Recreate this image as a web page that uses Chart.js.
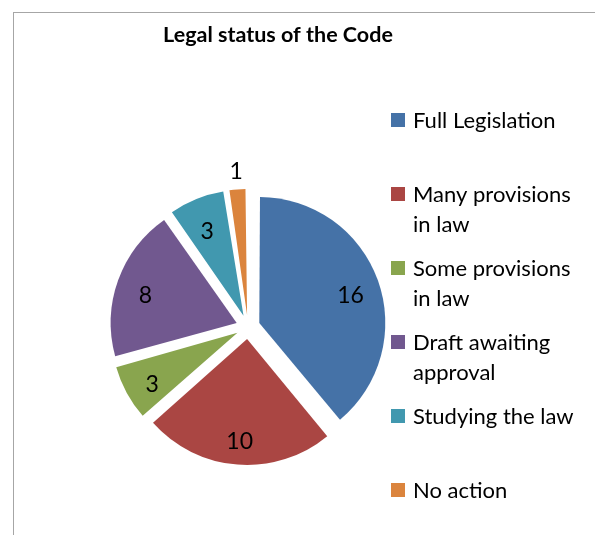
<!DOCTYPE html>
<html>
<head>
<meta charset="utf-8">
<script src="https://cdn.jsdelivr.net/npm/chart.js@4/dist/chart.umd.min.js"></script>
<style>
	html, body { margin: 0; padding: 0; background: #fff; }
	#wrap { width: 595px; height: 535px; }
</style>
</head>
<body>
<div id="wrap"><canvas id="chart" width="595" height="535"></canvas></div>
<script>
const title = 'Legal status of the Code'
const categories = [
	['Full Legislation'],
	['Many provisions', 'in law'],
	['Some provisions', 'in law'],
	['Draft awaiting', 'approval'],
	['Studying the law'],
	['No action']
]
const values = [16, 10, 3, 8, 3, 1]
const colors = ['#4572A7', '#AA4643', '#89A54E', '#71588F', '#4198AF', '#DB843D']

const font = 'Lato, "Noto Sans", sans-serif'
const RADIUS = 126
const EXPLODE = 12

// Chart.js grows the arc radius by offset * (1 - sin(angle)) when exploding,
// Excel only moves the slice, so take that growth back before drawing
const keepRadius = {
	id: 'keepRadius',
	beforeDatasetsDraw(chart) {
		chart.getDatasetMeta(0).data.forEach((arc) => {
			const fix = 1 - Math.sin(Math.min(Math.PI, arc.circumference || 0))
			arc.outerRadius = RADIUS - EXPLODE * fix
		})
	}
}

const extras = {
	id: 'extras',
	beforeDraw(chart) {
		const ctx = chart.ctx
		ctx.save()
		ctx.fillStyle = '#fff'
		ctx.fillRect(0, 0, chart.width, chart.height)
		ctx.strokeStyle = '#a6a6a6'
		ctx.lineWidth = 1
		ctx.strokeRect(13.5, 12.5, 800, 800)
		ctx.restore()
	},
	afterDraw(chart) {
		const ctx = chart.ctx
		ctx.save()
		// title
		ctx.fillStyle = '#000'
		ctx.font = 'bold 21.5px ' + font
		ctx.textAlign = 'center'
		ctx.textBaseline = 'alphabetic'
		ctx.fillText(title, 278, 42)

		// legend
		ctx.textAlign = 'left'
		ctx.font = '22px ' + font
		categories.forEach((lines, i) => {
			const top = 113 + i * 74
			ctx.fillStyle = colors[i]
			ctx.fillRect(391, top, 14, 14)
			ctx.fillStyle = '#000'
			lines.forEach((line, j) => {
				ctx.fillText(line, 413, top + 15 + j * 30)
			})
		})

		// data labels, tiny slices get theirs outside
		const meta = chart.getDatasetMeta(0)
		ctx.font = '23px ' + font
		ctx.textAlign = 'center'
		ctx.textBaseline = 'alphabetic'
		meta.data.forEach((arc, i) => {
			const p = arc.getProps(['x', 'y', 'startAngle', 'endAngle'], true)
			const mid = (p.startAngle + p.endAngle) / 2
			const small = p.endAngle - p.startAngle < 0.2
			const d = small ? RADIUS + EXPLODE + 18 : RADIUS * 0.77 + EXPLODE
			const shift = small ? 8 : 13
			ctx.fillText(String(values[i]), p.x + Math.cos(mid) * d, p.y + Math.sin(mid) * d + shift)
		})
		ctx.restore()
	}
}

new Chart(document.getElementById('chart'), {
	type: 'pie',
	data: {
		labels: categories,
		datasets: [
			{
				data: values,
				backgroundColor: colors,
				borderWidth: 0,
				offset: EXPLODE * 4
			}
		]
	},
	options: {
		responsive: false,
		animation: false,
		radius: RADIUS,
		layout: {
			padding: { left: 100, right: 199, top: 180, bottom: 61 }
		},
		plugins: {
			legend: { display: false },
			title: { display: false },
			tooltip: { enabled: false }
		}
	},
	plugins: [keepRadius, extras]
})
</script>
</body>
</html>
